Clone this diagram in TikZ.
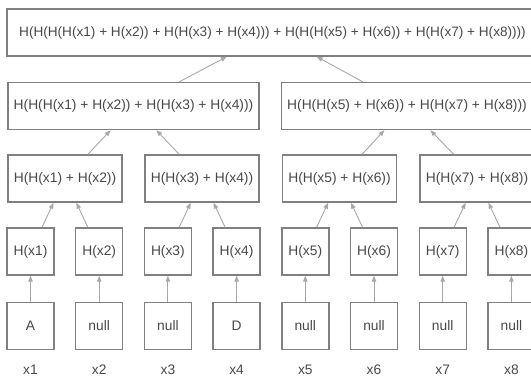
\documentclass[tikz,border=0pt]{standalone}
\usepackage{fontspec}
\setmainfont{Liberation Sans}
\usetikzlibrary{arrows.meta}
\definecolor{boxline}{RGB}{128,128,128}
\definecolor{arrowline}{RGB}{168,168,168}
\definecolor{labeltext}{RGB}{72,72,72}
\begin{document}
\begin{tikzpicture}[x=1pt,y=-1pt,
  hbox/.style={draw=boxline,line width=1.4pt,text=labeltext,
    font=\fontsize{13.8}{16}\selectfont,inner sep=0pt,minimum height=47pt},
  leafbox/.style={hbox,minimum width=47pt},
  pairbox/.style={hbox,minimum width=114pt},
  quadbox/.style={hbox,minimum width=251pt},
  rootbox/.style={hbox,minimum width=531pt,font=\fontsize{13.6}{16}\selectfont},
  colname/.style={text=labeltext,font=\fontsize{13.8}{16}\selectfont},
  conn/.style={draw=arrowline,line width=0.9pt,-{Triangle[length=6pt,width=4.5pt]}}]
\clip (0,0) rectangle (531,379);
% data row, hash row and column names
\foreach \i/\d in {1/A,2/null,3/null,4/D,5/null,6/null,7/null,8/null}{
  \pgfmathsetmacro{\cx}{30.5+68.7*(\i-1)}
  \node[leafbox] (l\i) at (\cx,326) {\d};
  \node[leafbox] (h\i) at (\cx,251.5) {H(x\i)};
  \node[colname] (t\i) at (\cx,370) {x\i};
  \draw[conn] (l\i) -- (h\i);
}
% pair hashes
\node[pairbox] (p12) at (65,178.5) {H(H(x1) + H(x2))};
\node[pairbox] (p34) at (202,178.5) {H(H(x3) + H(x4))};
\node[pairbox] (p56) at (339.5,178.5) {H(H(x5) + H(x6))};
\node[pairbox] (p78) at (477,178.5) {H(H(x7) + H(x8))};
% quad hashes
\node[quadbox] (q14) at (133.5,106) {H(H(H(x1) + H(x2)) + H(H(x3) + H(x4)))};
\node[quadbox] (q58) at (407,106) {H(H(H(x5) + H(x6)) + H(H(x7) + H(x8)))};
% root
\node[rootbox] (root) at (272.5,32.5) {H(H(H(H(x1) + H(x2)) + H(H(x3) + H(x4))) + H(H(H(x5) + H(x6)) + H(H(x7) + H(x8))))};
% connectors
\draw[conn] (h1) -- (p12);
\draw[conn] (h2) -- (p12);
\draw[conn] (h3) -- (p34);
\draw[conn] (h4) -- (p34);
\draw[conn] (h5) -- (p56);
\draw[conn] (h6) -- (p56);
\draw[conn] (h7) -- (p78);
\draw[conn] (h8) -- (p78);
\draw[conn] (p12) -- (q14);
\draw[conn] (p34) -- (q14);
\draw[conn] (p56) -- (q58);
\draw[conn] (p78) -- (q58);
\draw[conn] (q14) -- (root);
\draw[conn] (q58) -- (root);
\end{tikzpicture}
\end{document}
